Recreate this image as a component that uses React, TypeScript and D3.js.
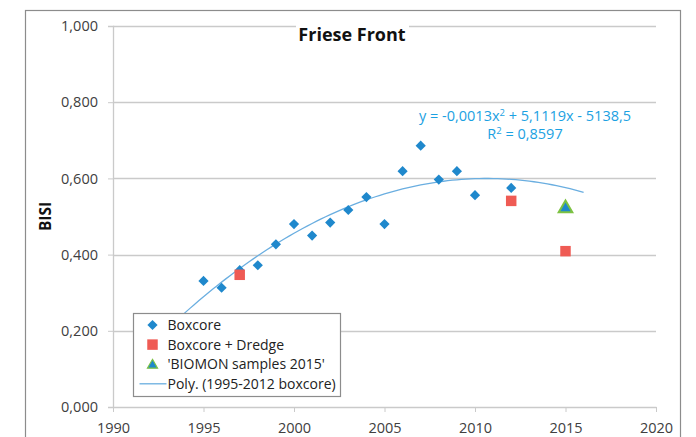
import * as d3 from 'd3'
import { useEffect, useRef } from 'react'

const boxcoreYears = [1995, 1996, 1997, 1998, 1999, 2000, 2001, 2002, 2003, 2004, 2005, 2006, 2007, 2008, 2009, 2010, 2012]
const boxcoreValues = [0.331, 0.313, 0.359, 0.372, 0.427, 0.48, 0.45, 0.484, 0.517, 0.551, 0.48, 0.619, 0.686, 0.597, 0.619, 0.556, 0.575]
const dredgeYears = [1997, 2012, 2015]
const dredgeValues = [0.347, 0.541, 0.409]
const biomonYears = [2015]
const biomonValues = [0.524]
const yTicks = [0, 0.2, 0.4, 0.6, 0.8, 1.0]
const xTicks = [1990, 1995, 2000, 2005, 2010, 2015, 2020]
const legendLabels = ['Boxcore', 'Boxcore + Dredge', "'BIOMON samples 2015'", 'Poly. (1995-2012 boxcore)']
const trendRange = [1993, 2016]

const BLUE = '#1f88cc'
const RED = '#ef5b54'
const GREEN = '#7dc242'
const TREND = '#6aaee0'
const EQ = '#1ba1e2'
const GRID = '#cacaca'
const TEXT = '#404040'
const FONT = "'Open Sans', 'Liberation Sans', sans-serif"

// least squares quadratic on boxcore points (x centred on 2000)
function fitQuadratic(xs: number[], ys: number[]) {
  const s = [0, 0, 0, 0, 0]
  const t = [0, 0, 0]
  xs.forEach((x0, i) => {
    const x = x0 - 2000
    for (let k = 0; k < 5; k++) s[k] += x ** k
    for (let k = 0; k < 3; k++) t[k] += ys[i] * x ** k
  })
  const m = [
    [s[0], s[1], s[2], t[0]],
    [s[1], s[2], s[3], t[1]],
    [s[2], s[3], s[4], t[2]],
  ]
  for (let i = 0; i < 3; i++) {
    for (let j = i + 1; j < 3; j++) {
      const f = m[j][i] / m[i][i]
      for (let k = i; k < 4; k++) m[j][k] -= f * m[i][k]
    }
  }
  const c = [0, 0, 0]
  for (let i = 2; i >= 0; i--) {
    let v = m[i][3]
    for (let k = i + 1; k < 3; k++) v -= m[i][k] * c[k]
    c[i] = v / m[i][i]
  }
  return (x: number) => c[0] + c[1] * (x - 2000) + c[2] * (x - 2000) ** 2
}

export default function App() {
  const ref = useRef<SVGSVGElement | null>(null)

  useEffect(() => {
    if (!ref.current) return
    const width = 696
    const height = 437
    const margin = { top: 26, right: 40, bottom: 30, left: 113 }

    const svg = d3.select(ref.current)
    svg.selectAll('*').remove()
    svg.attr('width', width).attr('height', height).style('display', 'block')

    svg.append('rect').attr('width', width).attr('height', height).attr('fill', '#fff')
    // outer chart frame
    svg.append('rect')
      .attr('x', 25.5).attr('y', 10.5).attr('width', 655).attr('height', 440)
      .attr('fill', 'none').attr('stroke', '#8c8c8c').attr('stroke-width', 1.2)

    const x = d3.scaleLinear().domain([1990, 2020]).range([margin.left, width - margin.right])
    const y = d3.scaleLinear().domain([0, 1]).range([407, margin.top])

    const fmt = (v: number) => d3.format('.3f')(v).replace('.', ',')

    // gridlines
    svg.append('g')
      .selectAll('line')
      .data(yTicks.filter(v => v > 0))
      .join('line')
      .attr('x1', x(1990)).attr('x2', x(2020))
      .attr('y1', d => Math.round(y(d)) + 0.5).attr('y2', d => Math.round(y(d)) + 0.5)
      .attr('stroke', GRID).attr('stroke-width', 1.3)

    // y axis
    const yAxis = svg.append('g').attr('transform', `translate(${x(1990)},0)`)
      .call(d3.axisLeft(y).tickValues(yTicks).tickSize(5).tickPadding(10).tickFormat(d => fmt(+d)))
    yAxis.select('.domain').attr('stroke', GRID).attr('stroke-width', 1.3)
    yAxis.selectAll('.tick line').attr('stroke', GRID)
    yAxis.selectAll('text').attr('fill', TEXT).style('font-family', FONT).style('font-size', '14.5px')

    // x axis
    const xAxis = svg.append('g').attr('transform', `translate(0,${y(0)})`)
      .call(d3.axisBottom(x).tickValues(xTicks).tickSize(5).tickSizeOuter(0).tickPadding(11).tickFormat(d3.format('d')))
    xAxis.select('.domain').attr('stroke', GRID).attr('stroke-width', 1.3)
    xAxis.selectAll('.tick line').attr('stroke', GRID)
    xAxis.selectAll('text').attr('fill', TEXT).style('font-family', FONT).style('font-size', '14.5px')

    // y title
    svg.append('text')
      .attr('transform', `translate(51,${y(0.5)}) rotate(-90)`)
      .attr('text-anchor', 'middle')
      .attr('fill', '#111').style('font-family', FONT).style('font-size', '15.5px').style('font-weight', 700)
      .text('BISI')

    // title with white backing
    svg.append('rect').attr('x', 296).attr('y', 18).attr('width', 113).attr('height', 30).attr('fill', '#fff')
    svg.append('text')
      .attr('x', 352).attr('y', 41).attr('text-anchor', 'middle')
      .attr('fill', '#111').style('font-family', FONT).style('font-size', '18px').style('font-weight', 700)
      .text('Friese Front')

    // trendline
    const f = fitQuadratic(boxcoreYears, boxcoreValues)
    const trendPts = d3.range(trendRange[0], trendRange[1] + 0.001, 0.25)
    svg.append('path')
      .datum(trendPts)
      .attr('fill', 'none').attr('stroke', TREND).attr('stroke-width', 1.3)
      .attr('d', d3.line<number>().x(d => x(d)).y(d => y(f(d))))

    const diamond = d3.symbol().type(d3.symbolSquare).size(52)()
    const square = d3.symbol().type(d3.symbolSquare).size(110)()
    const tri = d3.symbol().type(d3.symbolTriangle).size(80)()

    svg.append('g').selectAll('path')
      .data(boxcoreYears.map((yr, i) => [yr, boxcoreValues[i]]))
      .join('path')
      .attr('d', diamond)
      .attr('transform', d => `translate(${x(d[0])},${y(d[1])}) rotate(45)`)
      .attr('fill', BLUE)

    svg.append('g').selectAll('path')
      .data(dredgeYears.map((yr, i) => [yr, dredgeValues[i]]))
      .join('path')
      .attr('d', square)
      .attr('transform', d => `translate(${x(d[0])},${y(d[1])})`)
      .attr('fill', RED)

    svg.append('g').selectAll('path')
      .data(biomonYears.map((yr, i) => [yr, biomonValues[i]]))
      .join('path')
      .attr('d', tri)
      .attr('transform', d => `translate(${x(d[0])},${y(d[1]) + 1})`)
      .attr('fill', BLUE).attr('stroke', GREEN).attr('stroke-width', 2)

    // equation
    const eq = svg.append('text').attr('x', 525).attr('y', 121).attr('text-anchor', 'middle')
      .attr('fill', EQ).style('font-family', FONT).style('font-size', '14.5px')
    eq.append('tspan').text('y = -0,0013x')
    eq.append('tspan').attr('dy', -5).style('font-size', '9.5px').text('2')
    eq.append('tspan').attr('dy', 5).text(' + 5,1119x - 5138,5')
    const r2 = svg.append('text').attr('x', 525).attr('y', 139).attr('text-anchor', 'middle')
      .attr('fill', EQ).style('font-family', FONT).style('font-size', '14.5px')
    r2.append('tspan').text('R')
    r2.append('tspan').attr('dy', -5).style('font-size', '9.5px').text('2')
    r2.append('tspan').attr('dy', 5).text(' = 0,8597')

    // legend
    const lg = svg.append('g').attr('transform', 'translate(133.5,313.5)')
    lg.append('rect').attr('width', 207).attr('height', 83).attr('fill', '#fff').attr('stroke', '#8c8c8c').attr('stroke-width', 1.2)
    legendLabels.forEach((label, i) => {
      const cy = 11.5 + i * 19.6
      const row = lg.append('g').attr('transform', `translate(0,${cy})`)
      if (i === 0) row.append('path').attr('d', diamond).attr('transform', 'translate(19,0) rotate(45)').attr('fill', BLUE)
      if (i === 1) row.append('path').attr('d', square).attr('transform', 'translate(19,0)').attr('fill', RED)
      if (i === 2) row.append('path').attr('d', tri).attr('transform', 'translate(19,1) scale(0.75)').attr('fill', BLUE).attr('stroke', GREEN).attr('stroke-width', 1.5)
      if (i === 3) row.append('line').attr('x1', 6).attr('x2', 33).attr('stroke', TREND).attr('stroke-width', 1.3)
      row.append('text').attr('x', 34).attr('dy', '0.35em')
        .attr('fill', '#222').style('font-family', FONT).style('font-size', '14px')
        .text(label)
    })
  }, [])

  return <svg ref={ref} style={{ position: 'absolute', left: 0, top: 0 }} />
}
